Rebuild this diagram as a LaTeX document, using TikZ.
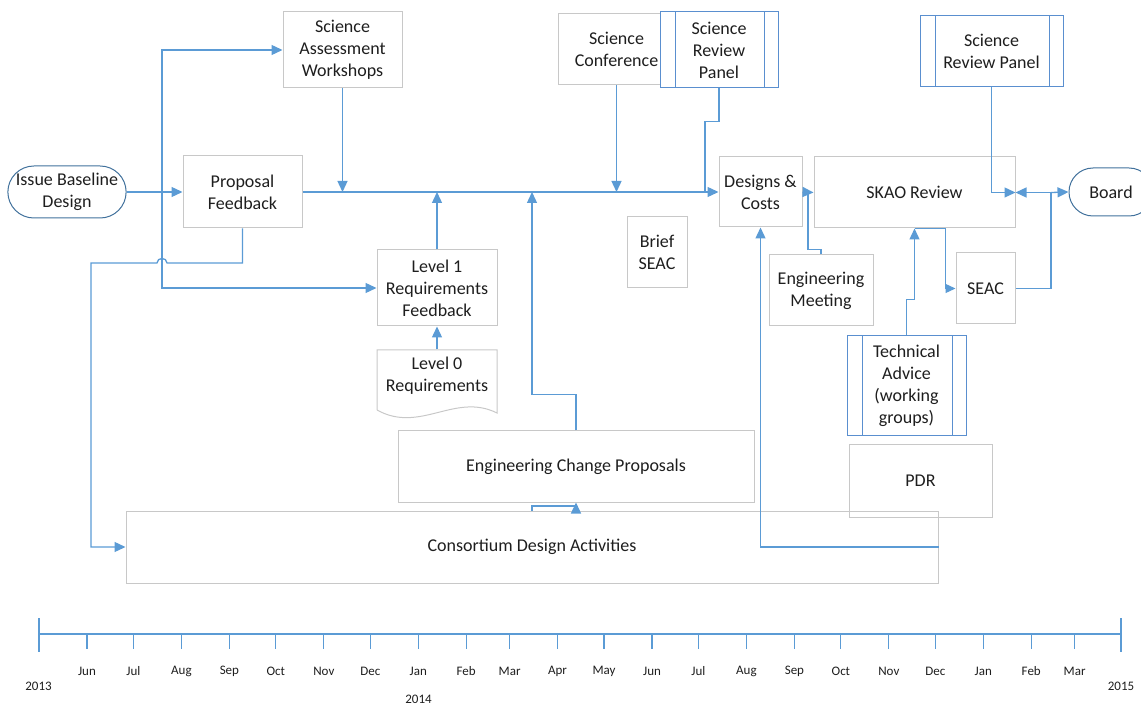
\documentclass[tikz,border=0pt]{standalone}
\usepackage{fontspec}
\setmainfont{Carlito}
\usetikzlibrary{arrows.meta}
\usetikzlibrary{shapes.misc}
\usetikzlibrary{calc}

\definecolor{lineblue}{HTML}{5B9BD5}
\definecolor{termblue}{HTML}{41719C}
\definecolor{procblue}{HTML}{5A8FCF}
\definecolor{boxgray}{HTML}{C8C8C8}
\definecolor{txt}{HTML}{1E1E1E}

\tikzset{
	box/.style={rectangle,draw=boxgray,line width=1pt,inner sep=0pt,align=center,text=txt,font=\fontsize{18}{22}\selectfont},
	term/.style={box,rounded rectangle,draw=termblue},
	proc/.style={box,draw=procblue,fill=white,
		path picture={\draw[procblue,line width=1pt]
			([xshift=15pt]path picture bounding box.north west) -- ([xshift=15pt]path picture bounding box.south west)
			([xshift=-14pt]path picture bounding box.north east) -- ([xshift=-14pt]path picture bounding box.south east);}},
	link/.style={draw=lineblue,line width=1.3pt},
	conn/.style={link,-{Triangle[length=11pt,width=10pt]}},
	tl/.style={draw=lineblue,line width=1.1pt},
	mon/.style={inner sep=0pt,text=txt,font=\fontsize{13}{15}\selectfont}
}

\begin{document}
\begin{tikzpicture}[x=1pt,y=-1pt]
	\useasboundingbox (0,0) rectangle (1141,708);
	
	% boxes
	\node[term,minimum width=118pt,minimum height=52pt] (ibd) at (67,192) {Issue Baseline\\Design};
	\node[box,minimum width=119pt,minimum height=72pt] (pf) at (242.5,192) {Proposal\\Feedback};
	\node[box,minimum width=119pt,minimum height=76pt] (saw) at (342.5,50) {Science\\Assessment\\Workshops};
	\node[box,minimum width=117pt,minimum height=71pt] (sc) at (616.5,49.5) {Science\\Conference};
	\node[proc,minimum width=118pt,minimum height=76pt] (srpa) at (719,50) {Science\\Review\\Panel};
	\node[proc,minimum width=143pt,minimum height=71pt] (srpb) at (991.5,51.5) {Science\\Review Panel};
	\node[box,minimum width=83pt,minimum height=70pt] (dc) at (760.5,192) {Designs \&\\Costs};
	\node[box,minimum width=201pt,minimum height=71pt] (skao) at (914.5,192.5) {SKAO Review};
	\node[term,minimum width=84pt,minimum height=48pt] (board) at (1111,192) {Board};
	\node[box,minimum width=60pt,minimum height=71pt] (bseac) at (657,252.5) {Brief\\SEAC};
	\node[box,minimum width=120pt,minimum height=76pt] (lvo) at (437,288) {Level 1\\Requirements\\Feedback};
	\node[box,minimum width=104pt,minimum height=71pt] (em) at (821,290.5) {Engineering\\Meeting};
	\node[box,minimum width=59pt,minimum height=71pt] (seac) at (985.5,288.5) {SEAC};
	\node[proc,minimum width=119pt,minimum height=100pt] (ta) at (906.5,386) {Technical\\Advice\\(working\\groups)};
	\node[box,minimum width=143pt,minimum height=72pt] (pdr) at (920.5,481) {PDR};
	\node[box,minimum width=356pt,minimum height=71pt] (ecp) at (576,466.5) {Engineering Change Proposals};
	\node[box,minimum width=812pt,minimum height=72pt] (cda) at (532,547) {Consortium Design Activities};
	
	% document shape
	\node[box,draw=none,minimum width=120pt,minimum height=52pt] (lvz) at (437,376) {Level 0\\Requirements};
	\draw[boxgray,line width=1pt] (377,410) -- (377,350) -- (497,350) -- (497,413)
		.. controls (455,392) and (420,434) .. (377,410);
	
	% connectors
	\coordinate (split) at (162,192);
	\draw[conn] (ibd.east) -- (pf.west);
	\draw[conn] (split) |- (saw.west);
	\draw[conn] (split) |- (lvo.west);
	\draw[conn] (pf.south) |- (167,263) .. controls (167,257) and (157,257) .. (157,263) -- (91,263) |- (cda.west);
	\draw[conn] (pf.east) -- (dc.west);
	\draw[conn] (saw.south) -- (saw.south |- pf.east);
	\draw[conn] (lvo.north) -- (lvo.north |- pf.east);
	\draw[conn] (lvz.north) -- (lvo.south);
	\draw[conn] (ecp.north) -- ++(0,-36) -| (532,192);
	\draw[conn] (cda.north) |- (576,506) -- (ecp.south);
	\draw[conn] (sc.south) -- (sc.south |- pf.east);
	\draw[link] (srpa.south) -- ++(0,33) -| (705,192);
	\draw[conn] (cda.east) -| (dc.south);
	\draw[conn] (dc.east) -- (skao.west);
	\draw[link] (em.north) -- ++(0,-5) -| (808,192);
	\draw[conn] (ta.north) -- ++(0,-36) -| (skao.south);
	\draw[conn,-{Triangle[length=10pt,width=9pt]}] (skao.south) -| ([xshift=-10pt]seac.west) -- (seac.west);
	\coordinate (bj) at (1051,192.5);
	\draw[link] (seac.east) -| (bj);
	\draw[conn] (bj) -- (board.west);
	\draw[conn] (bj) -- (skao.east);
	\draw[conn] (srpb.south) |- (skao.east);
	
	% timeline
	\begin{scope}
	\draw[tl] (39,634) -- (1121,634);
	\draw[tl] (39,618) -- (39,652);
	\draw[tl] (1121,618) -- (1121,652);
	\foreach \d/\m in {31/Jun,61/Jul,92/Aug,123/Sep,153/Oct,184/Nov,214/Dec,245/Jan,276/Feb,304/Mar,335/Apr,
		365/May,396/Jun,426/Jul,457/Aug,488/Sep,518/Oct,549/Nov,579/Dec,610/Jan,641/Feb,669/Mar}
	{
		\draw[tl] ({39+1.548*\d},634) -- ++(0,15);
		\node[mon] at ({39+1.548*\d},671) {\m};
	}
	\node[mon] (ya) at (38.5,686) {2013};
	\node[mon] (yb) at (418.5,699) {2014};
	\node[mon] (yc) at (1121,686) {2015};
	\end{scope}
\end{tikzpicture}
\end{document}
